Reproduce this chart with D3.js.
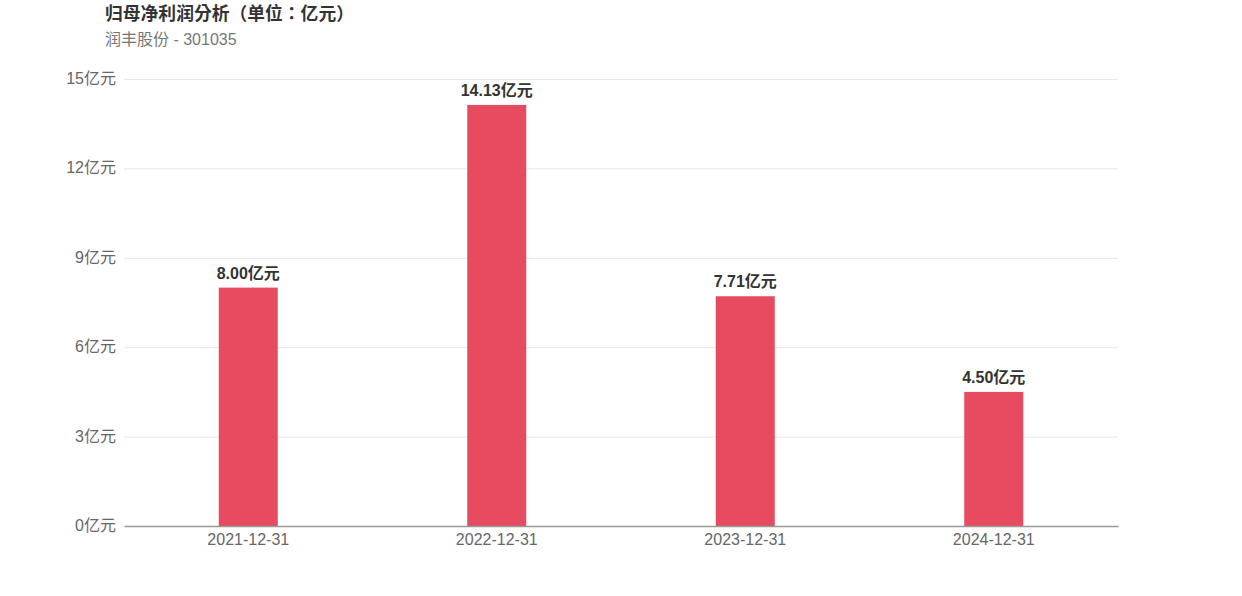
<!DOCTYPE html>
<html><head><meta charset="utf-8">
<script src="https://cdn.jsdelivr.net/npm/d3@7"></script>
<style>body{margin:0;background:#fff;font-family:"Liberation Sans","Noto Sans CJK SC",sans-serif;}</style>
</head><body><svg id="c" width="1242" height="596"></svg>
<script>
const categories = ["2021-12-31","2022-12-31","2023-12-31","2024-12-31"];
const values = [8.00, 14.13, 7.71, 4.50];
const yTicks = [0,3,6,9,12,15];
const title = "归母净利润分析（单位：亿元）";
const subtitle = "润丰股份 - 301035";

const svg = d3.select("#c");
const m = {l:124, r:1118, t:79, b:526};
const x = d3.scaleBand().domain(categories).range([m.l, m.r]).paddingInner(0).paddingOuter(0);
const y = d3.scaleLinear().domain([0,15]).range([m.b, m.t]);
const font = '"Liberation Sans","Noto Sans CJK SC",sans-serif';

svg.append("text").attr("x",105).attr("y",20).attr("font-size",17.8).attr("font-weight","bold").attr("fill","#333").attr("font-family",'"Noto Sans CJK TC","Noto Sans CJK SC",sans-serif').text(title);
svg.append("text").attr("x",105).attr("y",45).attr("font-size",16).attr("fill","#777").attr("font-family",font).text(subtitle);

// grid
svg.append("g").selectAll("line").data(yTicks.filter(d=>d>0)).join("line")
  .attr("x1",m.l).attr("x2",m.r).attr("y1",d=>y(d)+0.5).attr("y2",d=>y(d)+0.5)
  .attr("stroke","#e6e6ec").attr("stroke-width",1);

// y labels
svg.append("g").selectAll("text").data(yTicks).join("text")
  .attr("x",116).attr("y",d=>y(d)+5).attr("text-anchor","end").attr("font-size",16)
  .attr("fill","#666").attr("font-family",font).text(d=>d+"亿元");

// bars
const bw = 59;
svg.append("g").selectAll("rect").data(values).join("rect")
  .attr("x",(d,i)=>x(categories[i])+x.bandwidth()/2-bw/2).attr("width",bw)
  .attr("y",d=>y(d)).attr("height",d=>y(0)-y(d)).attr("fill","#e64b5f");

// value labels
svg.append("g").selectAll("text").data(values).join("text")
  .attr("x",(d,i)=>x(categories[i])+x.bandwidth()/2).attr("y",d=>y(d)-9)
  .attr("text-anchor","middle").attr("font-size",16).attr("font-weight","bold")
  .attr("fill","#333").attr("font-family",font).text(d=>d.toFixed(2)+"亿元");

// x axis
const xa = svg.append("g").attr("transform",`translate(0,${m.b})`)
  .call(d3.axisBottom(x).tickSize(0).tickPadding(8));
xa.select(".domain").attr("stroke","#999").attr("stroke-width",1.5);
xa.selectAll("text").attr("font-size",16).attr("fill","#666").attr("font-family",font);
</script></body></html>
